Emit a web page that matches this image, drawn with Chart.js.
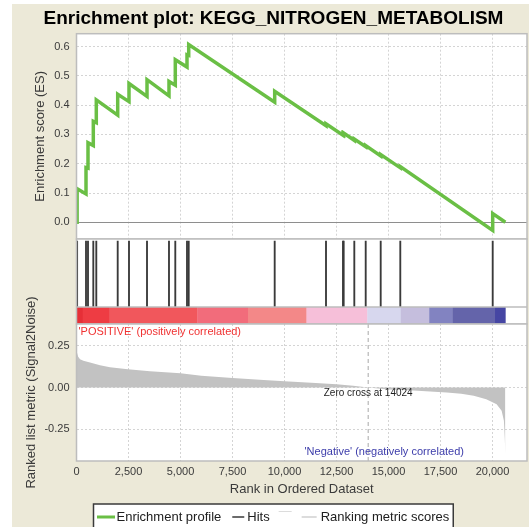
<!DOCTYPE html>
<html>
<head>
<meta charset="utf-8">
<title>Enrichment plot</title>
<script src="https://cdn.jsdelivr.net/npm/chart.js@4.4.1/dist/chart.umd.min.js"></script>
<style>
  html, body { margin: 0; padding: 0; background: #fff; }
  #wrap { position: relative; width: 529px; height: 527px; }
  #wrap canvas { position: absolute; left: 0; top: 0; }
</style>
</head>
<body>
<div id="wrap">
  <canvas id="esChart" width="529" height="527"></canvas>
  <canvas id="hitsChart" width="529" height="527"></canvas>
  <canvas id="rankChart" width="529" height="527"></canvas>
</div>
<script>
// ---- data ----
const chartTitle = 'Enrichment plot: KEGG_NITROGEN_METABOLISM';
const listSize = 20620;
const zeroCross = 14024;

// gene set members in the ranked list, with the running ES just before / after each hit
const hitRanks = [30, 457, 553, 808, 952, 1981, 2524, 3390, 4447, 4750, 5313, 5395,
  9529, 11996, 12813, 12846, 13357, 13905, 14626, 15568, 20011];
const esBeforeHit = [0, 0.097, 0.185, 0.262, 0.340, 0.366, 0.412, 0.430, 0.432, 0.468, 0.530, 0.570,
  0.410, 0.330, 0.297, 0.300, 0.280, 0.258, 0.227, 0.186, -0.028];
const esAfterHit = [0.115, 0.187, 0.272, 0.345, 0.418, 0.437, 0.474, 0.487, 0.481, 0.555, 0.572, 0.607,
  0.447, 0.336, 0.302, 0.305, 0.284, 0.262, 0.231, 0.190, 0.030];
const esStart = 0;
const esEnd = 0;

// ranked list metric (Signal2Noise)
const metricRanks = [0, 80, 170, 330, 650, 1130, 1610, 2470, 3530, 5000, 6000, 7500, 9000, 10000,
  11500, 12500, 13300, 14024, 15000, 16200, 17000, 17800, 18500, 19100, 19700, 20200, 20440, 20550, 20590, 20620];
const metricValues = [0.22, 0.185, 0.17, 0.16, 0.15, 0.134, 0.122, 0.11, 0.098, 0.085, 0.07, 0.057, 0.045, 0.037,
  0.027, 0.02, 0.01, 0, -0.012, -0.018, -0.024, -0.03, -0.037, -0.05, -0.07, -0.10, -0.14, -0.20, -0.30, -0.40];

// colour bar under the hits
const barEdges = [0, 298, 1591, 5813, 8246, 11058, 13982, 15592, 16958, 18073, 20122, 20620];
const barColors = ['#E62F37', '#EE3C43', '#F1575C', '#F26C7B', '#F38888', '#F6BFD9',
  '#D7D7EE', '#C5BEDD', '#8283C1', '#6464AA', '#4646A3'];

// tick labels
const rankTicks = [0, 2500, 5000, 7500, 10000, 12500, 15000, 17500, 20000];
const esTicks = [0, 0.1, 0.2, 0.3, 0.4, 0.5, 0.6];
const metricTicks = [-0.25, 0, 0.25];

// ---- look ----
const fontFamily = '"Liberation Sans", Arial, Helvetica, sans-serif';
const beige = '#ECE9D8';
const frameColor = '#BDBDBD';
const gridColor = '#D4D4D4';
const labelColor = '#3A3A3A';
const esGreen = '#6ABF45';
const hitColor = '#3A3A3A';
const metricGray = '#C2C2C2';

const rankMax = 21660;      // right end of the x axis
const plotLeft = 76.5;      // left edge of all plot areas
const rightPad = 2;
const esBottom = 239;
const hitsBottom = 324;

Chart.defaults.font.family = fontFamily;
Chart.defaults.color = labelColor;
Chart.defaults.animation = false;
Chart.defaults.responsive = false;
Chart.defaults.plugins.legend.display = false;
Chart.defaults.plugins.tooltip.enabled = false;

// running ES as a stepped line: vertical jump at each hit
const esPoints = [{ x: 0, y: esStart }];
hitRanks.forEach((r, i) => {
    esPoints.push({ x: r, y: esBeforeHit[i] });
    esPoints.push({ x: r, y: esAfterHit[i] });
});
esPoints.push({ x: listSize, y: esEnd });

const metricPoints = metricRanks.map((r, i) => ({ x: r, y: metricValues[i] }));

const useTicks = list => scale => { scale.ticks = list.map(v => ({ value: v })); };
const dotted = [2, 2];

// white plot background, grey frame, and (optionally) the beige page
const panel = {
    id: 'panel',
    beforeDraw(chart, args, opts) {
        const { ctx, chartArea: a } = chart;
        ctx.save();
        if (opts.page) {
            ctx.fillStyle = '#fff';
            ctx.fillRect(0, 0, chart.width, chart.height);
            ctx.fillStyle = beige;
            ctx.fillRect(12, 4, chart.width - 12, chart.height - 4);
        }
        ctx.fillStyle = '#fff';
        ctx.fillRect(a.left, a.top, a.width, a.height);
        ctx.restore();
    },
    afterDraw(chart, args, opts) {
        const { ctx, chartArea: a } = chart;
        ctx.save();
        ctx.strokeStyle = frameColor;
        ctx.lineWidth = 1.5;
        ctx.strokeRect(a.left, a.top, a.width, a.height);
        if (opts.title) {
            ctx.fillStyle = '#000';
            ctx.font = 'bold 19px ' + fontFamily;
            ctx.textAlign = 'center';
            ctx.textBaseline = 'middle';
            ctx.fillText(opts.title, 273.5, 18.5);
        }
        ctx.restore();
    }
};

// ---- top: running enrichment score ----
new Chart(document.getElementById('esChart'), {
    type: 'line',
    data: {
        datasets: [{
            label: 'Enrichment profile',
            data: esPoints,
            borderColor: esGreen,
            borderWidth: 3.5,
            pointRadius: 0,
            tension: 0,
            fill: false
        }]
    },
    options: {
        layout: { padding: { top: 33.7, bottom: 527 - esBottom, left: 0, right: rightPad } },
        scales: {
            x: {
                type: 'linear', min: 0, max: rankMax,
                afterFit: s => { s.height = 0; },
                afterBuildTicks: useTicks(rankTicks),
                ticks: { display: false },
                grid: { drawTicks: false, color: gridColor },
                border: { display: false, dash: dotted }
            },
            y: {
                min: -0.057, max: 0.644,
                afterFit: s => { s.width = plotLeft; },
                afterBuildTicks: useTicks(esTicks),
                ticks: { callback: v => v.toFixed(1), font: { size: 11 }, padding: 7 },
                grid: {
                    drawTicks: false,
                    color: c => (c.tick && c.tick.value === 0) ? '#8E8E8E' : gridColor
                },
                border: { display: false, dash: c => (c.tick && c.tick.value === 0) ? [] : dotted },
                title: { display: true, text: 'Enrichment score (ES)', font: { size: 13 }, padding: { top: 32.7, bottom: 0 } }
            }
        },
        plugins: { panel: { page: true, title: chartTitle } }
    },
    plugins: [panel]
});

// ---- middle: hits and the colour bar ----
const hitTop = 0.975, colorBarTop = 0.2;
new Chart(document.getElementById('hitsChart'), {
    type: 'bar',
    data: {
        datasets: [{
            label: 'Hits',
            data: hitRanks.map(r => ({ x: r, y: [colorBarTop, hitTop] })),
            backgroundColor: hitColor,
            barThickness: 1.2,
            borderWidth: 0
        }]
    },
    options: {
        layout: { padding: { top: esBottom, bottom: 527 - hitsBottom, left: plotLeft, right: rightPad } },
        scales: {
            x: { type: 'linear', min: 0, max: rankMax, display: false, offset: false },
            y: { min: 0, max: 1, display: false }
        }
    },
    plugins: [panel, {
        id: 'colorBar',
        afterDatasetsDraw(chart) {
            const { ctx, scales: { x, y } } = chart;
            const top = y.getPixelForValue(colorBarTop), bottom = y.getPixelForValue(0);
            ctx.save();
            barColors.forEach((c, i) => {
                const x0 = x.getPixelForValue(barEdges[i]);
                const x1 = x.getPixelForValue(barEdges[i + 1]);
                ctx.fillStyle = c;
                ctx.fillRect(x0, top, x1 - x0 + 0.3, bottom - top);
            });
            ctx.strokeStyle = frameColor;
            ctx.lineWidth = 1.5;
            ctx.beginPath();
            ctx.moveTo(chart.chartArea.left, top);
            ctx.lineTo(chart.chartArea.right, top);
            ctx.stroke();
            ctx.restore();
        }
    }]
});

// ---- bottom: ranked list metric ----
const legendItems = [
    { text: 'Enrichment profile', color: esGreen, width: 3, len: 18, gap: 1.5 },
    { text: 'Hits', color: hitColor, width: 1.5, len: 12, gap: 3, before: 11 },
    { text: '', color: '#DCDCDC', width: 1, len: 13, gap: 0, before: 9, lift: -5.5 },
    { text: 'Ranking metric scores', color: '#D0D0D0', width: 1.5, len: 15, gap: 4, before: 10 }
];

new Chart(document.getElementById('rankChart'), {
    type: 'line',
    data: {
        datasets: [{
            label: 'Ranking metric scores',
            data: metricPoints,
            fill: 'origin',
            backgroundColor: metricGray,
            borderWidth: 0,
            pointRadius: 0,
            tension: 0
        }]
    },
    options: {
        layout: { padding: { top: hitsBottom, bottom: 26, left: 0, right: rightPad } },
        scales: {
            x: {
                type: 'linear', min: 0, max: rankMax,
                afterFit: s => { s.height = 40; },
                afterBuildTicks: useTicks(rankTicks),
                ticks: { callback: v => v.toLocaleString('en-US'), font: { size: 11 }, padding: 4, maxRotation: 0, autoSkip: false },
                grid: { drawTicks: false, color: gridColor },
                border: { display: false, dash: dotted },
                title: { display: true, text: 'Rank in Ordered Dataset', font: { size: 13 }, padding: { top: 0, bottom: 4 } }
            },
            y: {
                min: -0.441, max: 0.381,
                afterFit: s => { s.width = plotLeft; },
                afterBuildTicks: useTicks(metricTicks),
                ticks: { callback: v => v.toFixed(2), font: { size: 11 }, padding: 7 },
                grid: { drawTicks: false, color: gridColor },
                border: { display: false, dash: dotted },
                title: { display: true, text: 'Ranked list metric (Signal2Noise)', font: { size: 13 }, padding: { top: 23.6, bottom: 0 } }
            }
        },
        plugins: { panel: {} }
    },
    plugins: [panel, {
        id: 'rankNotes',
        afterDatasetsDraw(chart) {
            const { ctx, chartArea: a, scales: { x, y } } = chart;
            const zx = x.getPixelForValue(zeroCross);
            ctx.save();
            ctx.strokeStyle = '#A8A8A8';
            ctx.lineWidth = 1;
            ctx.setLineDash([4, 3]);
            ctx.beginPath();
            ctx.moveTo(zx, a.top);
            ctx.lineTo(zx, a.bottom);
            ctx.stroke();
            ctx.setLineDash([]);

            ctx.textBaseline = 'middle';
            ctx.font = '10px ' + fontFamily;
            ctx.fillStyle = '#1E1E1E';
            ctx.textAlign = 'center';
            ctx.fillText('Zero cross at ' + zeroCross, zx, y.getPixelForValue(0) + 5.5);

            ctx.font = '11px ' + fontFamily;
            ctx.textAlign = 'left';
            ctx.fillStyle = '#F03232';
            ctx.fillText("'POSITIVE' (positively correlated)", a.left + 2, a.top + 7.5);

            ctx.textAlign = 'right';
            ctx.fillStyle = '#3C3CAA';
            ctx.fillText("'Negative' (negatively correlated)", a.right - 63, a.bottom - 9.5);
            ctx.restore();
        },
        afterDraw(chart) {
            const { ctx } = chart;
            const cy = 517, boxLeft = 93.5, boxTop = 504;
            ctx.save();
            ctx.font = '13px ' + fontFamily;
            ctx.textBaseline = 'middle';
            ctx.textAlign = 'left';
            // measure first so the box can be drawn behind
            let px = boxLeft + 3.5;
            const placed = legendItems.map(it => {
                px += it.before || 0;
                const lineX = px;
                px += it.len + it.gap;
                const textX = px;
                px += it.text ? ctx.measureText(it.text).width : 0;
                return { it, lineX, textX };
            });
            const boxRight = px + 4;
            ctx.fillStyle = '#fff';
            ctx.fillRect(boxLeft, boxTop, boxRight - boxLeft, chart.height - boxTop + 4);
            ctx.strokeStyle = '#3A3A3A';
            ctx.lineWidth = 1.5;
            ctx.strokeRect(boxLeft, boxTop, boxRight - boxLeft, chart.height - boxTop + 4);
            placed.forEach(({ it, lineX, textX }) => {
                const ly = cy + (it.lift || 0);
                ctx.strokeStyle = it.color;
                ctx.lineWidth = it.width;
                ctx.beginPath();
                ctx.moveTo(lineX, ly);
                ctx.lineTo(lineX + it.len, ly);
                ctx.stroke();
                if (it.text) {
                    ctx.fillStyle = '#202020';
                    ctx.fillText(it.text, textX, cy);
                }
            });
            ctx.restore();
        }
    }]
});
</script>
</body>
</html>
